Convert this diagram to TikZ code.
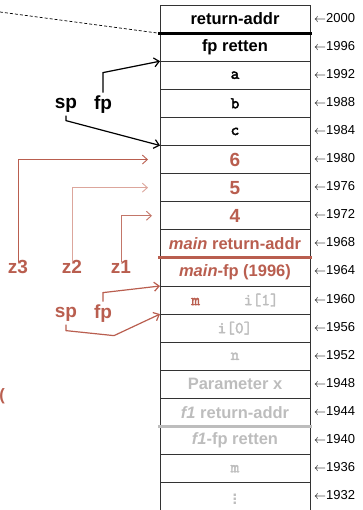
\documentclass[tikz,border=0pt]{standalone}
\usepackage{fontspec}
\setmainfont{Liberation Sans}
\setmonofont{lmmono10-regular.otf}[AutoFakeBold=2.5]
\usepackage{tikz}
\usetikzlibrary{arrows.meta,positioning}
\definecolor{rust}{HTML}{B95E4F}
\definecolor{rustlight}{HTML}{DCA69C}
\definecolor{fadegrey}{HTML}{BDBDBD}
\definecolor{boxline}{HTML}{333333}

\begin{document}
\begin{tikzpicture}[
  x=1pt, y=-1pt,
  >={Straight Barb[length=5pt,width=9pt]},
  cell/.style={
    draw=boxline,
    line width=0.9pt,
    minimum width=150pt,
    minimum height=28.1pt,
    inner sep=0pt,
    outer sep=0pt,
    align=center,
    font=\fontsize{16.5}{18}\selectfont\bfseries
  },
  valtext/.style={
    font=\fontsize{19}{21}\selectfont\bfseries,
    text=rust
  },
  sidelabel/.style={
    font=\fontsize{19}{21}\selectfont\bfseries
  },
  addr/.style={
    font=\fontsize{13}{15}\selectfont,
    inner sep=0pt,
    anchor=west
  },
  sepline/.style={
    line width=3pt
  },
  ptrarrow/.style={
    ->,
    line width=1.2pt
  },
  zarrow/.style={
    ->,
    line width=0.9pt,
    shorten <=-5pt
  }
]

  % ----------------------------------------------------
  % STACK CELLS
  % ----------------------------------------------------
  \useasboundingbox (0,0) rectangle (363,510);

  \node[cell] (r1) at (235,19.05) {return-addr};
  \node[cell, below=0pt of r1] (r2) {fp retten};
  \node[cell, below=0pt of r2] (r3) {\texttt{a}};
  \node[cell, below=0pt of r3] (r4) {\texttt{b}};
  \node[cell, below=0pt of r4] (r5) {\texttt{c}};
  \node[cell, valtext, below=0pt of r5] (r6) {6};
  \node[cell, valtext, below=0pt of r6] (r7) {5};
  \node[cell, valtext, below=0pt of r7] (r8) {4};
  \node[cell, text=rust, below=0pt of r8] (r9) {\textit{main} return-addr};
  \node[cell, text=rust, below=0pt of r9] (r10) {\textit{main}-fp (1996)};
  \node[cell, below=0pt of r10] (r11) {\ttfamily{\color{rust}m}\hspace{44pt}{\color{fadegrey}i[1]}};
  \node[cell, text=fadegrey, below=0pt of r11] (r12) {\texttt{i[0]}};
  \node[cell, text=fadegrey, below=0pt of r12] (r13) {\texttt{n}};
  \node[cell, text=fadegrey, below=0pt of r13] (r14) {Parameter x};
  \node[cell, text=fadegrey, below=0pt of r14] (r15) {\textit{f1} return-addr};
  \node[cell, text=fadegrey, below=0pt of r15] (r16) {\textit{f1}-fp retten};
  \node[cell, text=fadegrey, below=0pt of r16] (r17) {\texttt{m}};
  \node[cell, text=fadegrey, below=0pt of r17] (r18) {$\vdots$};

  % frame borders
  \draw[sepline, draw=black] ([xshift=-2pt]r1.south west) -- ([xshift=2pt]r1.south east);
  \draw[sepline, draw=rust] ([xshift=-2pt]r9.south west) -- ([xshift=2pt]r9.south east);
  \draw[sepline, draw=fadegrey] ([xshift=-2pt]r15.south west) -- ([xshift=2pt]r15.south east);

  % addresses
  \foreach \i in {1,...,18} {
    \pgfmathtruncatemacro{\adr}{2004-4*\i}
    \node[addr] (a\i) at ([xshift=4pt,yshift=1.5pt]r\i.east) {$\leftarrow$\adr};
  }

  % ----------------------------------------------------
  % POINTERS
  % ----------------------------------------------------
  \coordinate (dashstart) at (0,12);
  \draw[dashed, line width=0.7pt, dash pattern=on 3pt off 2pt] (dashstart) -- ([xshift=-2pt]r1.south west);

  % sp / fp of f
  \node[sidelabel] (sp) at (66,105) {sp};
  \node[sidelabel] (fp) at (103,105) {fp};
  \draw[ptrarrow] (fp.north) -- ++(0,-20) -- (r3.north west);
  \draw[ptrarrow] (sp.south) -- ++(0,5) -- (r6.north west);

  % arguments
  \node[sidelabel, text=rust] (z3) at (18,267) {z3};
  \node[sidelabel, text=rust] (z2) at (72,267) {z2};
  \node[sidelabel, text=rust] (z1) at (121,267) {z1};
  \draw[zarrow, draw=rust] (z3.north) |- ([xshift=-12pt]r6.west);
  \draw[zarrow, draw=rustlight] (z2.north) |- ([xshift=-12pt]r7.west);
  \draw[zarrow, draw=rust!85] (z1.north) |- ([xshift=-8pt]r8.west);

  % sp / fp of main
  \node[sidelabel, text=rust] (sp2) at (66,314) {sp};
  \node[sidelabel, text=rust] (fp2) at (103,314) {fp};
  \draw[ptrarrow, draw=rust] (fp2.north) -- ++(0,-9) -- (r11.north west);
  \draw[ptrarrow, draw=rust] (sp2.south) -- ++(0,6) -- ++(48,5) -- (r12.north west);

  \node[sidelabel, text=rust, font=\fontsize{16.5}{18}\selectfont\bfseries] (cutmark) at (2,396) {(};

\end{tikzpicture}
\end{document}
